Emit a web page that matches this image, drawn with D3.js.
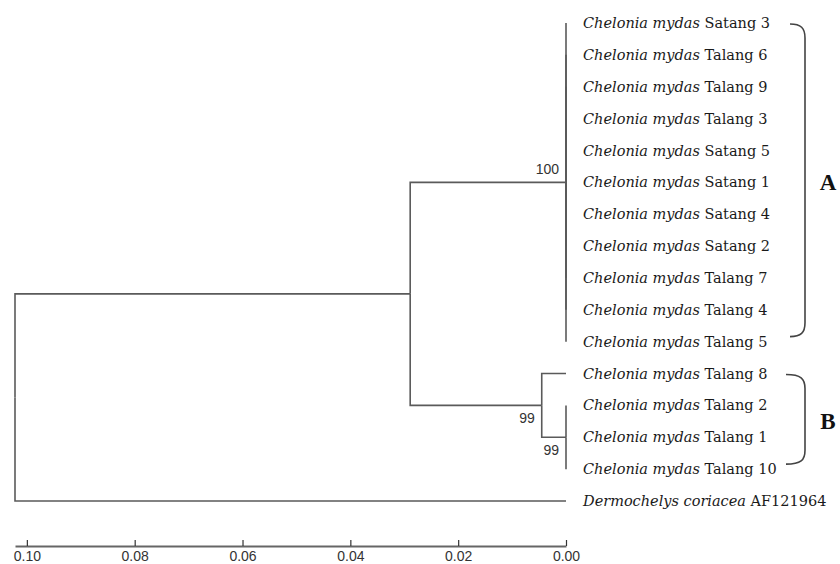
<!DOCTYPE html>
<html>
<head>
<meta charset="utf-8">
<script src="https://cdn.jsdelivr.net/npm/d3@7"></script>
<style>
  body { margin: 0; background: #fff; }
  svg { display: block; }
</style>
</head>
<body>
<div id="chart"></div>
<script>
// Haplotype tree
const cladeA = ['Satang 3', 'Talang 6', 'Talang 9', 'Talang 3', 'Satang 5', 'Satang 1',
  'Satang 4', 'Satang 2', 'Talang 7', 'Talang 4', 'Talang 5'];
const cladeBFirst = ['Talang 8'];
const cladeBSub = ['Talang 2', 'Talang 1', 'Talang 10'];
const genus = 'Chelonia mydas';
const outgroupName = 'Dermochelys coriacea';
const outgroupId = 'AF121964';

// node heights (distance from tips)
const nodeHeights = { root: 0.1022, ab: 0.0289, a: 0, b: 0.0045, bSub: 0 };
const bootstrap = { a: 100, b: 99, bSub: 99 };
const axisTicks = [0.10, 0.08, 0.06, 0.04, 0.02, 0.00];
const cladeLabels = ['A', 'B'];

const width = 840;
const height = 564;
const lineColor = '#5a5a5a';
const serif = '"DejaVu Serif", "Liberation Serif", serif';
const sans = '"Liberation Sans", Arial, sans-serif';

const svg = d3.select('#chart').append('svg')
  .attr('width', width)
  .attr('height', height);

// build hierarchy from the arrays
const leaf = (name, sp) => ({ name, sp, h: 0 });
const treeData = {
  id: 'root', h: nodeHeights.root,
  children: [
    { id: 'ab', h: nodeHeights.ab, children: [
      { id: 'a', h: nodeHeights.a, children: cladeA.map(n => leaf(n, genus)) },
      { id: 'b', h: nodeHeights.b, children: [
        ...cladeBFirst.map(n => leaf(n, genus)),
        { id: 'bSub', h: nodeHeights.bSub, children: cladeBSub.map(n => leaf(n, genus)) }
      ] }
    ] },
    { name: outgroupId, sp: outgroupName, h: 0 }
  ]
};

const root = d3.hierarchy(treeData);
const leaves = root.leaves();

const x = d3.scaleLinear().domain([nodeHeights.root, 0]).range([15, 566]);
const y = d3.scaleLinear().domain([0, leaves.length - 1]).range([23, 501]);

leaves.forEach((d, i) => { d.y = y(i); });
root.eachAfter(d => {
  d.x = x(d.data.h);
  if (d.children) d.y = (d.children[0].y + d.children[d.children.length - 1].y) / 2;
});

const g = svg.append('g');

// elbow links
g.selectAll('path.link')
  .data(root.links())
  .enter()
  .append('path')
  .attr('class', 'link')
  .attr('fill', 'none')
  .attr('stroke', lineColor)
  .attr('stroke-width', 1.6)
  .attr('d', d => `M${d.source.x},${d.source.y}V${d.target.y}H${d.target.x}`);

// tip labels
const tip = g.selectAll('text.tip')
  .data(leaves)
  .enter()
  .append('text')
  .attr('class', 'tip')
  .attr('x', d => d.x + 17)
  .attr('y', d => d.y)
  .attr('dy', '0.35em')
  .attr('font-family', serif)
  .attr('font-size', '14.5px')
  .attr('fill', '#1a1a1a');
tip.append('tspan').attr('font-style', 'italic').text(d => d.data.sp);
tip.append('tspan').text(d => ' ' + d.data.name);

// bootstrap values
const supportNodes = root.descendants().filter(d => d.data.id && bootstrap[d.data.id] != null);
g.selectAll('text.support')
  .data(supportNodes)
  .enter()
  .append('text')
  .attr('class', 'support')
  .attr('x', d => d.x - 7)
  .attr('y', d => d.data.id === 'a' ? d.y - 8 : d.y + 18)
  .attr('text-anchor', 'end')
  .attr('font-family', sans)
  .attr('font-size', '14px')
  .attr('fill', '#333')
  .text(d => bootstrap[d.data.id]);

// clade brackets
const bracketX = 805;
const groups = [
  { label: cladeLabels[0], first: 0, last: cladeA.length - 1, x0: 790 },
  { label: cladeLabels[1], first: cladeA.length, last: cladeA.length + cladeBFirst.length + cladeBSub.length - 1, x0: 786 }
];
groups.forEach(gr => {
  const y0 = y(gr.first) + 1;
  const y1 = y(gr.last) - 5;
  const r = 14;
  g.append('path')
    .attr('fill', 'none')
    .attr('stroke', '#444')
    .attr('stroke-width', 1.6)
    .attr('d', `M${gr.x0},${y0}C${bracketX - 4},${y0} ${bracketX},${y0 + 4} ${bracketX},${y0 + r}` +
      `V${y1 - r}C${bracketX},${y1 - 4} ${bracketX - 4},${y1} ${gr.x0},${y1}`);
  g.append('text')
    .attr('x', 828)
    .attr('y', (y(gr.first) + y(gr.last)) / 2)
    .attr('dy', '0.35em')
    .attr('text-anchor', 'middle')
    .attr('font-family', '"Liberation Serif", "Times New Roman", serif')
    .attr('font-weight', 'bold')
    .attr('font-size', '23px')
    .attr('fill', '#111')
    .text(gr.label);
});

// distance scale
const axis = d3.axisBottom(x)
  .tickValues(axisTicks)
  .tickFormat(d3.format('.2f'))
  .tickSizeInner(-6)
  .tickSizeOuter(0)
  .tickPadding(5);

const axisG = svg.append('g')
  .attr('transform', 'translate(0,546)')
  .call(axis);
axisG.select('.domain').attr('stroke', '#666').attr('stroke-width', 2);
axisG.selectAll('.tick line').attr('stroke', '#333').attr('stroke-width', 1.2);
axisG.selectAll('.tick text')
  .attr('font-family', sans)
  .attr('font-size', '14px')
  .attr('fill', '#333');
</script>
</body>
</html>
